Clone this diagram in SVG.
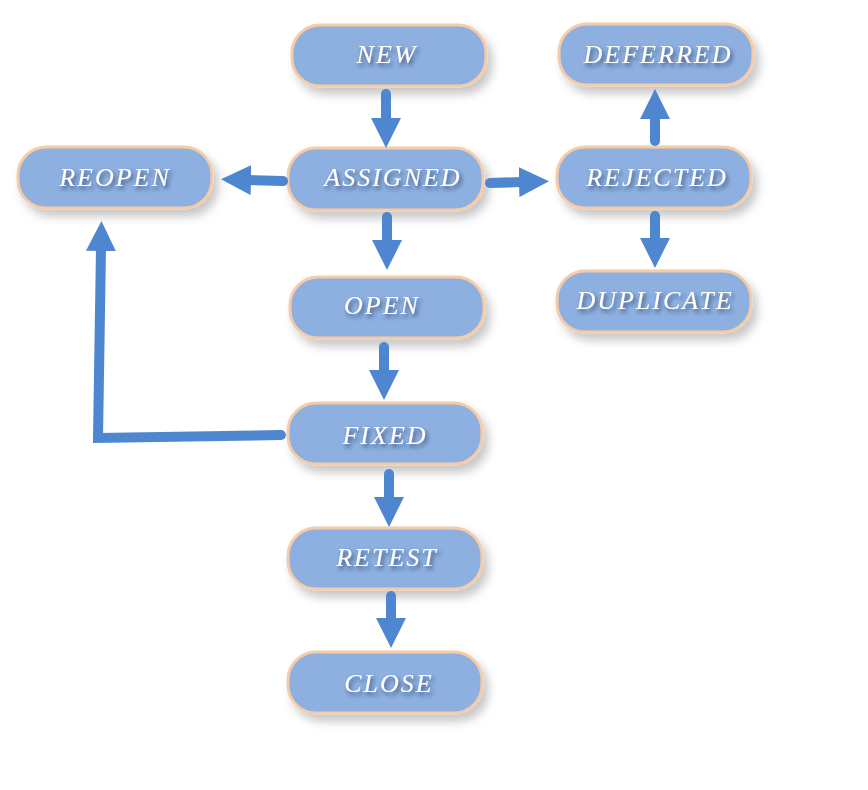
<svg xmlns="http://www.w3.org/2000/svg" width="868" height="790" viewBox="0 0 868 790">
<defs>
<filter id="sh" x="-20%" y="-30%" width="150%" height="170%">
<feDropShadow dx="5" dy="7" stdDeviation="5" flood-color="#000" flood-opacity="0.22"/>
</filter>
<filter id="tsh" x="-10%" y="-30%" width="130%" height="180%">
<feDropShadow dx="2" dy="3" stdDeviation="2" flood-color="#1a2a50" flood-opacity="0.7"/>
</filter>
<marker id="ah" markerWidth="3" markerHeight="3" refX="0.3" refY="1.5" orient="auto" markerUnits="strokeWidth">
<path d="M0,0 L3,1.5 L0,3 z" fill="#4f86d0"/>
</marker>
</defs>
<style>
.n rect{fill:#8db0e0;stroke:#f6cba8;stroke-width:3}
.n text{fill:#fff;font-family:"Liberation Serif",serif;font-style:italic;font-size:26px;text-anchor:middle;letter-spacing:2px;filter:url(#tsh)}
.c path{fill:none;stroke:#4f86d0;stroke-width:10;stroke-linecap:round;stroke-linejoin:miter;marker-end:url(#ah)}
</style>
<rect width="868" height="790" fill="#fff"/>
<g id="NEW" class="n"><rect x="292" y="25" width="194" height="61" rx="28" filter="url(#sh)"/><text x="387" y="63">NEW</text></g>
<g id="ASSIGNED" class="n"><rect x="288" y="148" width="195" height="62" rx="28" filter="url(#sh)"/><text x="393" y="186">ASSIGNED</text></g>
<g id="REOPEN" class="n"><rect x="18" y="147" width="194" height="61" rx="28" filter="url(#sh)"/><text x="115" y="186">REOPEN</text></g>
<g id="REJECTED" class="n"><rect x="557" y="147" width="194" height="61" rx="28" filter="url(#sh)"/><text x="657" y="186">REJECTED</text></g>
<g id="DEFERRED" class="n"><rect x="559" y="24" width="194" height="61" rx="28" filter="url(#sh)"/><text x="658" y="63">DEFERRED</text></g>
<g id="DUPLICATE" class="n"><rect x="557" y="271" width="194" height="61" rx="28" filter="url(#sh)"/><text x="655" y="309">DUPLICATE</text></g>
<g id="OPEN" class="n"><rect x="290" y="277" width="194" height="61" rx="28" filter="url(#sh)"/><text x="382" y="314">OPEN</text></g>
<g id="FIXED" class="n"><rect x="288" y="403" width="194" height="61" rx="28" filter="url(#sh)"/><text x="385" y="444">FIXED</text></g>
<g id="RETEST" class="n"><rect x="288" y="528" width="194" height="61" rx="28" filter="url(#sh)"/><text x="387" y="566">RETEST</text></g>
<g id="CLOSE" class="n"><rect x="288" y="652" width="194" height="61" rx="28" filter="url(#sh)"/><text x="389" y="692">CLOSE</text></g>
<g id="connectors" class="c">
<path d="M386,94 L386,121"/>
<path d="M283,181 L248,180"/>
<path d="M490,183 L522,182"/>
<path d="M387,217 L387,243"/>
<path d="M384,347 L384,373"/>
<path d="M281,435 L98,438 L101,248"/>
<path d="M389,474 L389,500"/>
<path d="M391,596 L391,621"/>
<path d="M655,141 L655,116"/>
<path d="M655,216 L655,241"/>
</g>
</svg>
